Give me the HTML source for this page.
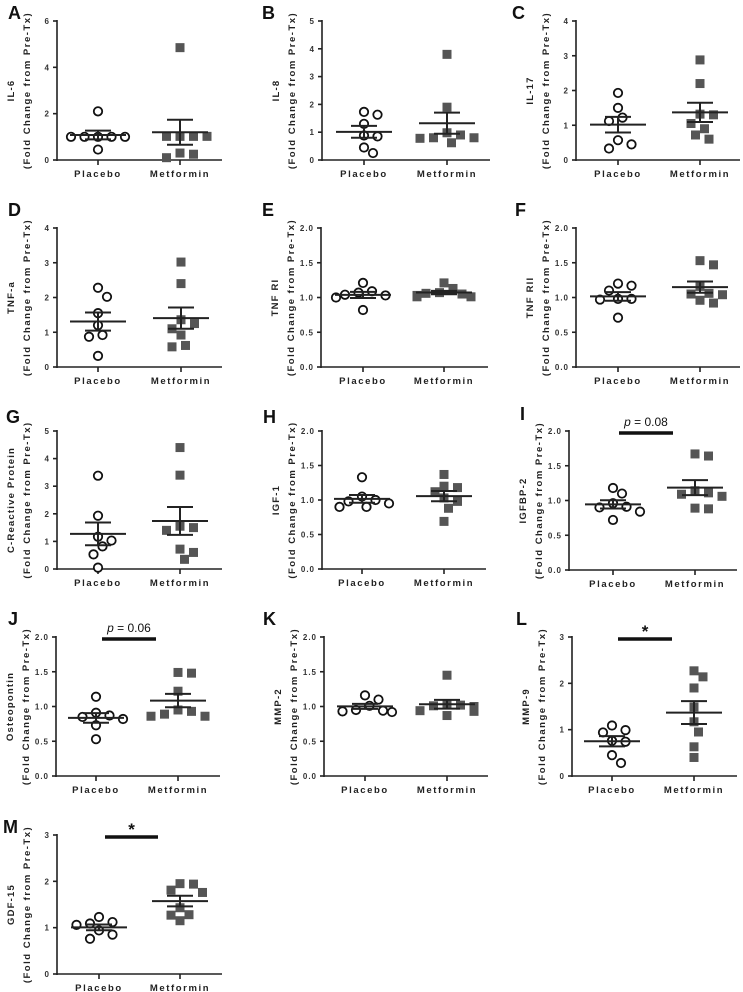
<!DOCTYPE html>
<html><head><meta charset="utf-8">
<style>
html,body{margin:0;padding:0;background:#fff;}
svg{display:block;font-family:"Liberation Sans",Arial,sans-serif;}
</style></head>
<body>
<svg id="fig" width="743" height="992" viewBox="0 0 743 992" xmlns="http://www.w3.org/2000/svg"></svg>
<script>
// ---- data (fold change values) ----
const panelLetters = ["A","B","C","D","E","F","G","H","I","J","K","L","M"];
const markers = ["IL-6","IL-8","IL-17","TNF-a","TNF RI","TNF RII","C-Reactive Protein","IGF-1","IGFBP-2","Osteopontin","MMP-2","MMP-9","GDF-15"];
const categories = ["Placebo","Metformin"];
const yMax = [6,5,4,4,2,2,5,2,2,2,2,3,3];
const yStep = [2,1,1,1,0.5,0.5,1,0.5,0.5,0.5,0.5,1,1];
const placebo = [
 [2.1,1.0,1.0,1.0,1.0,1.0,0.45],
 [1.73,1.63,1.3,0.88,0.85,0.45,0.25],
 [1.93,1.5,1.22,1.12,0.57,0.45,0.33],
 [2.28,2.02,1.55,1.2,0.92,0.87,0.32],
 [1.21,1.09,1.07,1.04,1.03,1.0,0.82],
 [1.2,1.17,1.1,0.98,0.97,0.98,0.71],
 [3.38,1.93,1.17,1.03,0.82,0.53,0.05],
 [1.33,1.05,1.0,0.98,0.95,0.9,0.9],
 [1.18,1.1,0.96,0.91,0.9,0.84,0.72],
 [1.14,0.91,0.87,0.85,0.82,0.73,0.53],
 [1.16,1.1,1.01,0.95,0.94,0.93,0.92],
 [1.09,0.99,0.94,0.76,0.74,0.45,0.28],
 [1.23,1.12,1.09,1.06,0.94,0.85,0.76]
];
const metformin = [
 [4.85,1.02,1.02,1.02,1.02,0.3,0.25,0.1],
 [3.8,1.9,0.98,0.9,0.8,0.8,0.78,0.62],
 [2.88,2.2,1.32,1.3,1.05,0.9,0.72,0.6],
 [3.02,2.4,1.36,1.25,1.1,0.92,0.62,0.58],
 [1.21,1.13,1.07,1.06,1.05,1.03,1.01,1.01],
 [1.53,1.47,1.16,1.06,1.05,1.04,0.96,0.92],
 [4.4,3.4,1.55,1.5,1.4,0.72,0.6,0.35],
 [1.37,1.2,1.18,1.12,1.03,0.98,0.88,0.69],
 [1.67,1.64,1.14,1.11,1.09,1.06,0.89,0.88],
 [1.49,1.48,1.22,0.95,0.93,0.89,0.86,0.86],
 [1.45,1.04,1.02,1.01,1.0,0.94,0.93,0.87],
 [2.27,2.14,1.9,1.49,1.17,0.95,0.63,0.4],
 [1.95,1.94,1.81,1.76,1.43,1.28,1.27,1.15]
];
const sigLabels = ["","","","","","","","","p = 0.08","p = 0.06","","*","*"];

// ---- layout ----
const layout = [
 {ax:57,top:21,bot:160,t1:98,t2:180,end:222,lx:8,ly:19},
 {ax:322,top:21,bot:160,t1:364,t2:447,end:490,lx:262,ly:19},
 {ax:576,top:21,bot:160,t1:618,t2:700,end:740,lx:512,ly:19},
 {ax:57,top:228,bot:367,t1:98,t2:181,end:222,lx:8,ly:216},
 {ax:321,top:228,bot:367,t1:363,t2:444,end:488,lx:262,ly:216},
 {ax:576,top:228,bot:367,t1:618,t2:700,end:740,lx:515,ly:216},
 {ax:57,top:431,bot:569,t1:98,t2:180,end:222,lx:6,ly:423},
 {ax:322,top:431,bot:569,t1:362,t2:444,end:486,lx:263,ly:423},
 {ax:569,top:431,bot:570,t1:613,t2:695,end:737,lx:520,ly:420},
 {ax:56,top:637,bot:776,t1:96,t2:178,end:220,lx:8,ly:625},
 {ax:324,top:637,bot:776,t1:365,t2:447,end:488,lx:263,ly:625},
 {ax:572,top:637,bot:776,t1:612,t2:694,end:737,lx:516,ly:625},
 {ax:57,top:835,bot:974,t1:99,t2:180,end:222,lx:3,ly:833}
];

const NS="http://www.w3.org/2000/svg";
const svg=document.getElementById('fig');
function mk(tag,attrs,parent){const e=document.createElementNS(NS,tag);for(const k in attrs)e.setAttribute(k,attrs[k]);(parent||svg).appendChild(e);return e;}
function stats(a){const n=a.length;const m=a.reduce((s,v)=>s+v,0)/n;const sd=Math.sqrt(a.reduce((s,v)=>s+(v-m)*(v-m),0)/(n-1));return [m,sd/Math.sqrt(n)];}
function swarm(vals,cx,yf){const pts=[];const order=vals.map((v,i)=>i).sort((a,b)=>vals[b]-vals[a]);const d=10.5;const step=4.5;const res=new Array(vals.length);
 for(const i of order){const y=yf(vals[i]);let k=0,x=cx;
  while(true){const offs=k===0?[0]:[k*step,-k*step];let ok=null;
   for(const o of offs){const xx=cx+o;if(pts.every(p=>Math.hypot(p[0]-xx,p[1]-y)>=d)){ok=xx;break;}}
   if(ok!==null){x=ok;break;}k++;if(k>6){x=cx+(pts.length%2?-1:1)*6*step;break;}}
  pts.push([x,y]);res[i]=[x,y];}
 return res;}

panelLetters.forEach((L,p)=>{
 const g=mk('g',{});
 
 
 const c=layout[p];
 const yf=v=>c.bot-(v/yMax[p])*(c.bot-c.top);
 const letter=mk('text',{x:c.lx,y:c.ly,'font-size':18,'font-weight':'bold',fill:'#111'},g);
 letter.textContent=L;
 
 
 const yax=mk('line',{x1:c.ax,y1:c.top-1,x2:c.ax,y2:c.bot+1,stroke:'#222','stroke-width':1.6},g);
 
 
 const xax=mk('line',{x1:c.ax,y1:c.bot,x2:c.end,y2:c.bot,stroke:'#222','stroke-width':1.6},g);
 
 
 const dec=yStep[p]<1;
 for(let v=0;v<=yMax[p]+1e-9;v+=yStep[p]){
  const y=yf(v);
  mk('line',{x1:c.ax-4,y1:y,x2:c.ax,y2:y,stroke:'#222','stroke-width':1.6},g);
  const t=mk('text',{x:c.ax-7,y:y+3,'font-size':8,'font-weight':'bold','text-anchor':'end',fill:'#333','letter-spacing':'1'},g);
  t.textContent=dec?v.toFixed(1):String(Math.round(v));
  
  
 }
 const cy=(c.top+c.bot)/2;
 const t1=mk('text',{x:c.ax-43,y:cy,'font-size':9.5,'font-weight':'bold','text-anchor':'middle',fill:'#222','letter-spacing':'1.2',transform:`rotate(-90 ${c.ax-43} ${cy})`},g);
 t1.textContent=markers[p];
 
 
 const t2=mk('text',{x:c.ax-27,y:cy,'font-size':9.5,'font-weight':'bold','text-anchor':'middle',fill:'#222','letter-spacing':'1.5',transform:`rotate(-90 ${c.ax-27} ${cy})`},g);
 t2.textContent='(Fold Change from Pre-Tx)';
 
 
 const cxs=[c.t1,c.t2];
 [placebo[p],metformin[p]].forEach((vals,gi)=>{
  const cx=cxs[gi];
  mk('line',{x1:cx,y1:c.bot,x2:cx,y2:c.bot+5,stroke:'#222','stroke-width':1.6},g);
  const cl=mk('text',{x:cx,y:c.bot+17,'font-size':9.5,'font-weight':'bold','text-anchor':'middle',fill:'#222','letter-spacing':'1.6'},g);
  cl.textContent=categories[gi];
  
  
  const pts=swarm(vals,cx,yf);
  pts.forEach(([x,y])=>{
   let m;
   if(gi===0){m=mk('circle',{cx:x,cy:y,r:4.2,fill:'#fff',stroke:'#111','stroke-width':1.8},g);
    }
   else{m=mk('rect',{x:x-4.5,y:y-4.5,width:9,height:9,fill:'#555'},g);
    }
   
  });
  const [mean,sem]=stats(vals);
  const ml=mk('line',{x1:cx-28,y1:yf(mean),x2:cx+28,y2:yf(mean),stroke:'#222','stroke-width':2},g);
  
  
  mk('line',{x1:cx,y1:yf(mean+sem),x2:cx,y2:yf(mean-sem),stroke:'#222','stroke-width':2},g);
  mk('line',{x1:cx-13,y1:yf(mean+sem),x2:cx+13,y2:yf(mean+sem),stroke:'#222','stroke-width':2},g);
  mk('line',{x1:cx-13,y1:yf(mean-sem),x2:cx+13,y2:yf(mean-sem),stroke:'#222','stroke-width':2},g);
 });
 if(sigLabels[p]){
  const by=c.top+2;
  const b=mk('line',{x1:c.t1+6,y1:by,x2:c.t2-22,y2:by,stroke:'#111','stroke-width':3.5},g);
  
  
  const mid=(c.t1+6+c.t2-22)/2;
  const st=mk('text',{x:mid,y:sigLabels[p]==='*'?by-2:by-7,'font-size':sigLabels[p]==='*'?17:12,'font-weight':sigLabels[p]==='*'?'bold':'normal','text-anchor':'middle',fill:'#111'},g);
  if(sigLabels[p]==='*'){st.textContent='*';}
  else{const ti=mk('tspan',{'font-style':'italic'},st);ti.textContent='p';st.appendChild(document.createTextNode(sigLabels[p].slice(1)));}
  
  
 }
});
</script>
</body></html>
